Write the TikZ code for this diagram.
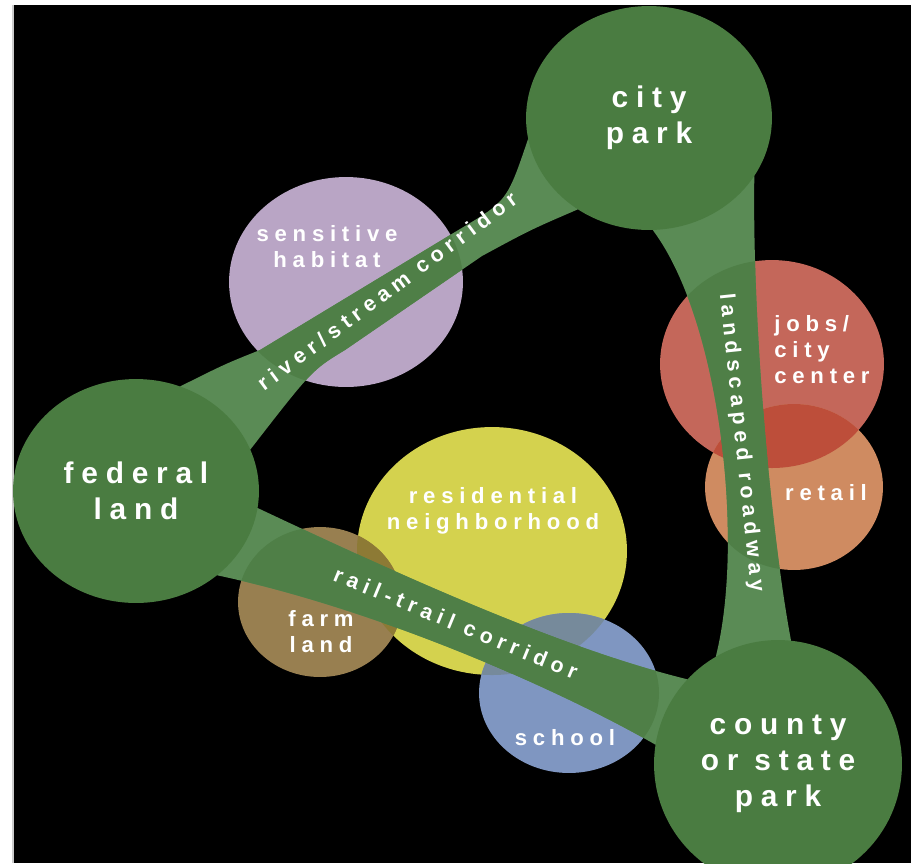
\documentclass[tikz,border=0pt]{standalone}
\usepackage{fontspec}
\usetikzlibrary{shapes.geometric}
\newfontfamily\wide{Liberation Sans}[LetterSpace=26]
\definecolor{parkc}{HTML}{4A7C41}
\definecolor{bandlight}{HTML}{5A8B55}
\definecolor{banddark}{HTML}{4F7F47}
\definecolor{habc}{HTML}{B9A5C5}
\definecolor{homec}{HTML}{D4D24E}
\definecolor{farmc}{HTML}{987F50}
\definecolor{schoolc}{HTML}{7F96C1}
\definecolor{jobc}{HTML}{C4675A}
\definecolor{shopc}{HTML}{CF8B61}
\definecolor{jobshopc}{HTML}{BD4E3A}
\definecolor{homefarmc}{HTML}{8D7A35}
\definecolor{homeschoolc}{HTML}{768A9B}
\pgfdeclarelayer{back}
\pgfdeclarelayer{blobs}
\pgfdeclarelayer{bands}
\pgfsetlayers{back,blobs,bands,main}

\begin{document}
\begin{tikzpicture}[x=0.02cm,y=-0.02cm,
    blob/.style 2 args={ellipse,inner sep=0pt,minimum width=#1*0.04cm,minimum height=#2*0.04cm},
    oval/.style 2 args={x radius=#1*0.02cm,y radius=#2*0.02cm},
    park/.style={fill=parkc,text=white,align=center,font=\wide\bfseries\fontsize{17}{20.5}\selectfont},
    tag/.style={text=white,inner sep=0pt,align=center,font=\wide\bfseries\fontsize{12.6}{14.8}\selectfont},
    way/.style={text=white,inner sep=0pt,font=\wide\bfseries\fontsize{12.2}{14}\selectfont}]
    \useasboundingbox (0,0) rectangle (915,863);

    % parks (dark green)
    \node[park,blob={123}{112}] (city) at (649,118) {city\\park};
    \node[park,blob={123}{112}] (fed) at (136,491) {federal\\land};
    \node[park,blob={124}{124}] (county) at (778,764) {county\\or state\\park};

    % land uses
    \begin{pgfonlayer}{blobs}
    \node[blob={117}{105},fill=habc] (habitat) at (346,282) {};
    \node[blob={135}{124},fill=homec] (home) at (492,551) {};
    \node[blob={82}{75},fill=farmc] (farm) at (320,602) {};
    \node[blob={90}{80},fill=schoolc] (school) at (569,693) {};
    \node[blob={112}{104},fill=jobc] (jobs) at (772,364) {};
    \node[blob={89}{83},fill=shopc] (retail) at (794,487) {};
    \begin{scope} % jobs and retail
      \clip (jobs.center) ellipse [oval={112}{104}];
      \fill[jobshopc] (retail.center) ellipse [oval={89}{83}];
    \end{scope}
    \begin{scope} % homes, farm and school
      \clip (home.center) ellipse [oval={135}{124}];
      \fill[homefarmc] (farm.center) ellipse [oval={82}{75}];
      \fill[homeschoolc] (school.center) ellipse [oval={90}{80}];
    \end{scope}
    \end{pgfonlayer}

    % corridors
    \def\river{(fed.center) -- (fed.67) .. controls (225,364) .. (260,350) -- (460,229)
      .. controls (507,201) .. (city.190) -- (city.center) -- (city.232)
      .. controls (530,230) .. (482,256) -- (345,350) .. controls (312,370) .. (fed.20) -- cycle}
    \def\rail{(fed.center) -- (fed.-8) .. controls (400,575) and (560,648) .. (county.137)
      -- (county.center) -- (county.171) .. controls (560,690) and (380,610) .. (fed.-46) -- cycle}
    \def\road{(city.center) -- (city.-88) .. controls (720,320) and (745,540) .. (county.120)
      -- (county.center) -- (county.84) .. controls (772,540) and (752,330) .. (city.-29) -- cycle}
    \begin{pgfonlayer}{bands}
    \fill[bandlight] \river \rail \road;
    \foreach \b/\rx/\ry in {habitat/117/105,home/135/124,farm/82/75,school/90/80,jobs/112/104,retail/89/83}{
      \begin{scope}
        \clip (\b.center) ellipse [oval={\rx}{\ry}];
        \fill[banddark] \river \rail \road;
      \end{scope}
    }
    \end{pgfonlayer}

    % labels
    \node[tag] (habitat-t) at (327,247) {sensitive\\habitat};
    \node[tag] (home-t) at (493,511) {residential\\neighborhood};
    \node[tag] (farm-t) at (321,632) {farm\\land};
    \node[tag] (school-t) at (565,738) {school};
    \node[tag,align=left,anchor=west] (jobs-t) at (774,350) {jobs/\\city\\center};
    \node[tag] (retail-t) at (826,493) {retail};
    \node[way,rotate=36.5] (river-t) at (387,291) {river/stream corridor};
    \node[way,rotate=-22.4] (rail-t) at (456,623) {rail-trail corridor};
    \node[way,rotate=-84] (road-t) at (741,443) {landscaped roadway};

    \begin{pgfonlayer}{back}
    \fill[white] (0,0) rectangle (915,863);
    \fill[black] (13,5) rectangle (911,863);
    \draw[gray!40,line width=0.6pt] (13,863) -- (13,5);
    \end{pgfonlayer}
\end{tikzpicture}
\end{document}
